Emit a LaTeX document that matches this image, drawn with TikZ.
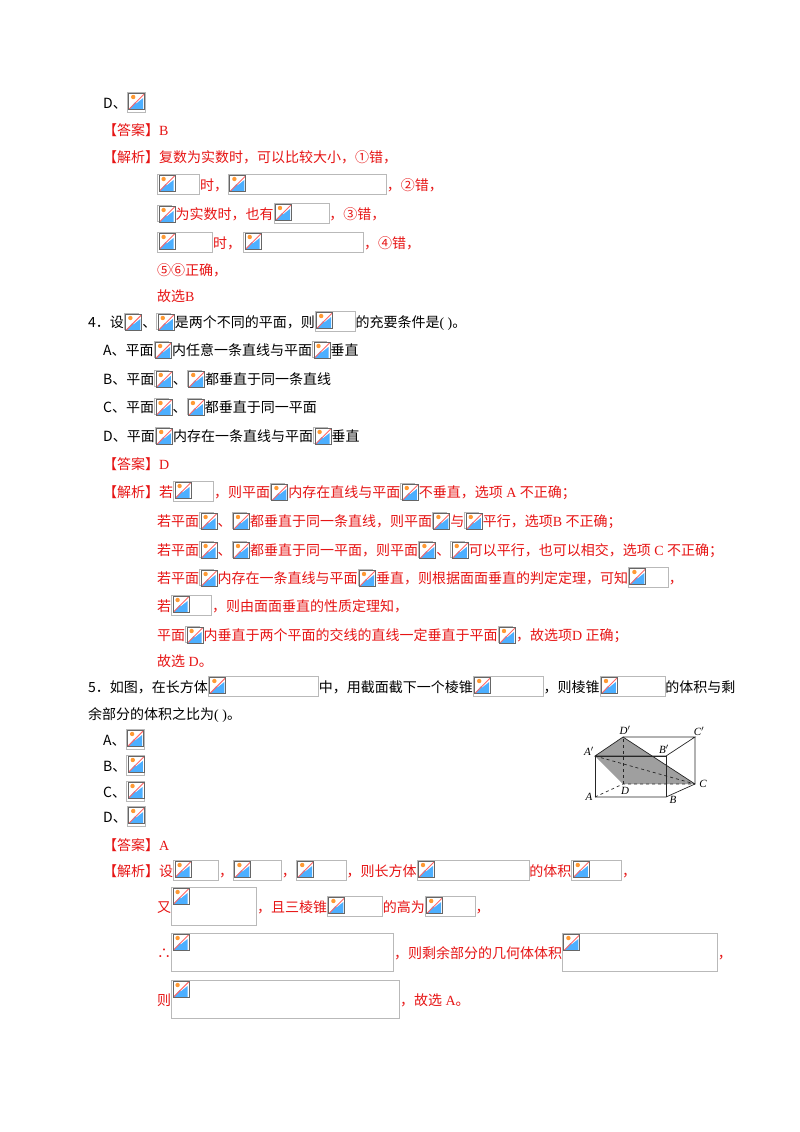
\documentclass[tikz,border=0pt]{standalone}
\usepackage{fontspec}
\setmainfont{Noto Sans CJK SC}
\newfontfamily\ser{Liberation Serif}
\newcommand\bi[2][20]{\tikz[x=1pt,y=1pt,baseline={(0,#1/2-6)}]{%
 \draw[gray!55,line width=0.8pt] (0,0) rectangle (#2,#1);
 \begin{scope}[shift={(1,#1-18)}]
 \fill[white] (0,0) rectangle (17,17);
 \fill[blue!45!cyan!70] (1,1) -- (15,1) -- (15,12) -- cycle;
 \fill[blue!45!cyan!70] (1,1) -- (7,8) -- (10,4) -- cycle;
 \fill[orange!80] (5,13) circle (2.2);
 \draw[red!60,line width=0.9pt] (1,1) -- (16,16);
 \draw[gray!80!black,line width=1pt] (0.5,0.5) rectangle (16.5,16.5);
 \end{scope}}}
\definecolor{rd}{RGB}{230,20,20}
\tikzset{t/.style={anchor=base west,inner sep=0pt,font=\fontsize{14}{16}\selectfont},r/.style={t,text=rd}}
\begin{document}
\begin{tikzpicture}[x=1pt,y=1pt]
\useasboundingbox (0,0) rectangle (800,-1132);
\node[t] (l1) at (103,-108) {D、\bi{18}};
\node[r] (l2) at (103,-135) {【答案】{\ser B}};
\node[r] (l3) at (103,-162) {【解析】复数为实数时，可以比较大小，①错，};
\node[r] (l4) at (157,-190) {\bi{42}时，\bi{158}，②错，};
\node[r] (l5) at (157,-219) {\bi[16]{14}为实数时，也有\bi{55}，③错，};
\node[r] (l6) at (157,-248) {\bi{55}时，\,\bi{120}，④错，};
\node[r] (l7) at (157,-275) {⑤⑥正确，};
\node[r] (l8) at (157,-301) {故选{\ser B}};
\node[t] (q4) at (88,-327) {4．设\bi[16]{14}、\bi[16]{14}是两个不同的平面，则\bi{40}的充要条件是{\ser( )}。};
\node[t] (a4) at (103,-355) {A、平面\bi[16]{14}内任意一条直线与平面\bi[16]{14}垂直};
\node[t] (b4) at (103,-384) {B、平面\bi[16]{14}、\bi[16]{14}都垂直于同一条直线};
\node[t] (c4) at (103,-412) {C、平面\bi[16]{14}、\bi[16]{14}都垂直于同一平面};
\node[t] (d4) at (103,-441) {D、平面\bi[16]{14}内存在一条直线与平面\bi[16]{14}垂直};
\node[r] (ans4) at (103,-469) {【答案】{\ser D}};
\node[r] (e1) at (103,-497) {【解析】若\bi{40}，则平面\bi[16]{14}内存在直线与平面\bi[16]{14}不垂直，选项{\ser\ A }不正确；};
\node[r] (e2) at (157,-526) {若平面\bi[16]{14}、\bi[16]{14}都垂直于同一条直线，则平面\bi[16]{14}与\bi[16]{14}平行，选项{\ser B }不正确；};
\node[r] (e3) at (157,-555) {若平面\bi[16]{14}、\bi[16]{14}都垂直于同一平面，则平面\bi[16]{14}、\bi[16]{14}可以平行，也可以相交，选项{\ser\ C }不正确；};
\node[r] (e4) at (157,-583) {若平面\bi[16]{14}内存在一条直线与平面\bi[16]{14}垂直，则根据面面垂直的判定定理，可知\bi{40}，};
\node[r] (e5) at (157,-611) {若\bi{40}，则由面面垂直的性质定理知，};
\node[r] (e6) at (157,-640) {平面\bi[16]{14}内垂直于两个平面的交线的直线一定垂直于平面\bi[16]{14}，故选项{\ser D }正确；};
\node[r] (e7) at (157,-666) {故选{\ser\ D}。};
\node[t] (q5) at (88,-692) {5．如图，在长方体\bi{110}中，用截面截下一个棱锥\bi{70}，则棱锥\bi{65}的体积与剩};
\node[t] (q5b) at (88,-719) {余部分的体积之比为{\ser( )}。};
\node[t] (a5) at (103,-745) {A、\bi{18}};
\node[t] (b5) at (103,-771) {B、\bi{18}};
\node[t] (c5) at (103,-797) {C、\bi{18}};
\node[t] (d5) at (103,-822) {D、\bi{18}};
\node[r] (ans5) at (103,-850) {【答案】{\ser A}};
\node[r] (f1) at (103,-876) {【解析】设\bi{45}，\bi{48}，\bi{50}，则长方体\bi{112}的体积\bi{50}，};
\node[r] (f2) at (157,-912) {又\bi[38]{85}，且三棱锥\bi{55}的高为\bi{50}，};
\node[r] (f3) at (157,-958) {∴\bi[38]{222}，则剩余部分的几何体体积\bi[38]{155}，};
\node[r] (f4) at (157,-1005) {则\bi[38]{228}，故选{\ser\ A}。};
% cuboid
\begin{scope}[line width=0.7pt,gray!30!black]
\coordinate (A1) at (595,-756); \coordinate (D1) at (623,-737);
\coordinate (C1) at (695,-737); \coordinate (B1) at (666,-756);
\coordinate (A) at (595,-797); \coordinate (B) at (666,-797);
\coordinate (D) at (623,-784); \coordinate (C) at (695,-784);
\fill[gray!75] (A1) -- (D1) -- (C) -- (D) -- cycle;
\draw (A1) -- (D1) -- (C1) -- (B1) -- cycle;
\draw (A) -- (B) -- (C) -- (C1); \draw (A) -- (A1); \draw (B) -- (B1);
\draw (D1) -- (C); \draw (A1) -- (B1);
\draw[dashed] (A) -- (D) -- (C); \draw[dashed] (D) -- (D1); \draw[dashed] (A1) -- (C);
\end{scope}
\begin{scope}[font=\fontsize{11}{12}\selectfont\ser\itshape]
\node at (589,-751) {A$'$}; \node at (625,-730) {D$'$}; \node at (699,-731) {C$'$};
\node at (664,-749) {B$'$}; \node at (589,-797) {A}; \node at (673,-800) {B};
\node at (625,-791) {D}; \node at (703,-784) {C};
\end{scope}
\end{tikzpicture}
\end{document}
